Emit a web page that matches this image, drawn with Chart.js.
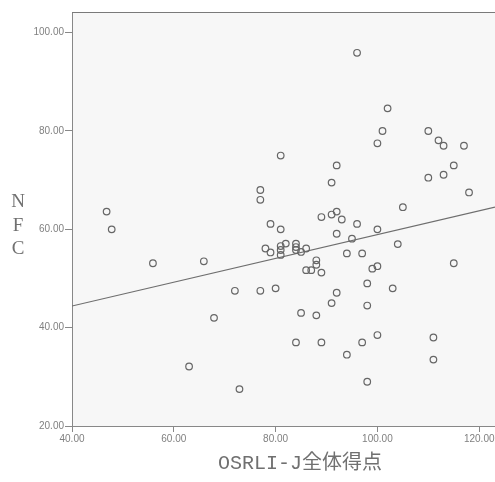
<!DOCTYPE html>
<html>
<head>
<meta charset="utf-8">
<script src="https://cdn.jsdelivr.net/npm/chart.js@4.4.1/dist/chart.umd.min.js"></script>
<style>
  html, body { margin: 0; padding: 0; background: #ffffff; }
  #wrap { width: 495px; height: 482px; }
</style>
</head>
<body>
<div id="wrap"><canvas id="nfcChart" width="495" height="482"></canvas></div>
<script>
// OSRLI-J total score (x) vs NFC (y)
const osrliScores = [
  46.8, 47.8, 55.9, 65.9, 67.9, 63.0, 72.0, 72.9, 77.0, 80.0,
  81.0, 92.0, 91.0, 77.0, 77.0, 89.0, 91.0, 92.0, 93.0, 96.0,
  79.0, 81.0, 92.0, 95.0, 100.0, 104.0, 105.0, 96.0, 102.0, 101.0,
  100.0, 110.0, 112.0, 113.0, 117.0, 115.0, 110.0, 113.0, 118.0, 115.0,
  78.0, 79.0, 81.0, 81.0, 81.0, 82.0, 84.0, 84.0, 84.0, 85.0,
  86.0, 88.0, 88.0, 86.0, 87.0, 89.0, 94.0, 97.0, 99.0, 100.0,
  98.0, 103.0, 92.0, 91.0, 98.0, 85.0, 88.0, 84.0, 89.0, 97.0,
  100.0, 94.0, 111.0, 111.0, 98.0
];
const nfcScores = [
  63.6, 60.0, 53.1, 53.5, 42.0, 32.1, 47.5, 27.5, 47.5, 48.0,
  75.0, 73.0, 69.5, 68.0, 66.0, 62.5, 63.0, 63.6, 62.0, 61.1,
  61.1, 60.0, 59.1, 58.1, 60.0, 57.0, 64.5, 95.9, 84.6, 80.0,
  77.5, 80.0, 78.1, 77.0, 77.0, 73.0, 70.5, 71.1, 67.5, 53.1,
  56.1, 55.3, 56.6, 55.8, 54.8, 57.1, 57.1, 56.4, 55.8, 55.4,
  56.1, 53.7, 52.8, 51.7, 51.7, 51.2, 55.1, 55.1, 52.0, 52.5,
  49.0, 48.0, 47.1, 45.0, 44.5, 43.0, 42.5, 37.0, 37.0, 37.0,
  38.5, 34.5, 38.0, 33.5, 29.0
];

// fitted regression line (end points at the plot edges)
const fitX = [40, 123.1];
const fitY = [44.4, 64.5];

const xTicks = [40, 60, 80, 100, 120];
const yTicks = [20, 40, 60, 80, 100];

const xTitle = 'OSRLI-J全体得点';
const yTitleLetters = ['N', 'F', 'C'];

const pointData = osrliScores.map((x, i) => ({ x: x, y: nfcScores[i] }));
const fitData = fitX.map((x, i) => ({ x: x, y: fitY[i] }));

// background, frame and axis titles
const decorPlugin = {
  id: 'decor',
  beforeDraw(chart) {
    const { ctx, chartArea } = chart;
    ctx.save();
    ctx.fillStyle = '#ffffff';
    ctx.fillRect(0, 0, chart.width, chart.height);
    ctx.fillStyle = '#f7f7f7';
    ctx.fillRect(chartArea.left, chartArea.top, chartArea.right - chartArea.left, chartArea.bottom - chartArea.top);
    ctx.restore();
  },
  afterDraw(chart) {
    const { ctx, chartArea } = chart;
    ctx.save();
    ctx.strokeStyle = '#7a7a7a';
    ctx.lineWidth = 1;
    ctx.beginPath();
    ctx.moveTo(chartArea.left, chartArea.top + 0.5);
    ctx.lineTo(chartArea.right, chartArea.top + 0.5);
    ctx.stroke();

    ctx.fillStyle = '#707070';
    ctx.textAlign = 'center';
    ctx.textBaseline = 'middle';
    ctx.font = '19px "Liberation Serif", serif';
    const letterY = [202, 226, 249];
    yTitleLetters.forEach((ch, i) => ctx.fillText(ch, 18, letterY[i]));

    ctx.font = '20px "Liberation Mono", "Noto Sans CJK JP", monospace';
    ctx.fillText(xTitle, 300, 464);
    ctx.restore();
  }
};

const tickFont = { family: '"Liberation Sans", Arial, sans-serif', size: 10 };

const config = {
  type: 'scatter',
  data: {
    datasets: [
      {
        label: 'NFC',
        data: pointData,
        pointStyle: 'circle',
        pointRadius: 3.3,
        pointBorderWidth: 1.2,
        pointBorderColor: '#666666',
        pointBackgroundColor: 'rgba(0,0,0,0)',
        showLine: false
      },
      {
        label: 'fit',
        type: 'line',
        data: fitData,
        borderColor: '#6e6e6e',
        borderWidth: 1.2,
        pointRadius: 0,
        fill: false
      }
    ]
  },
  options: {
    responsive: false,
    animation: false,
    layout: { autoPadding: false, padding: { top: 12, right: 0, bottom: 0, left: 0 } },
    plugins: {
      legend: { display: false },
      tooltip: { enabled: false },
      title: { display: false }
    },
    scales: {
      x: {
        type: 'linear',
        min: 40,
        max: 123.1,
        afterFit(scale) {
          scale.height = 56;
          scale.paddingLeft = 0;
          scale.paddingRight = 0;
        },
        afterBuildTicks(scale) { scale.ticks = xTicks.map(v => ({ value: v })); },
        ticks: {
          includeBounds: false,
          color: '#808080',
          font: tickFont,
          padding: 1,
          maxRotation: 0,
          callback: v => Number(v).toFixed(2)
        },
        grid: { drawOnChartArea: false, drawTicks: true, tickLength: 6, color: '#888888' },
        border: { color: '#888888', width: 1 }
      },
      y: {
        type: 'linear',
        min: 20,
        max: 104.2,
        afterFit(scale) {
          scale.width = 72;
          scale.paddingTop = 0;
          scale.paddingBottom = 0;
        },
        afterBuildTicks(scale) { scale.ticks = yTicks.map(v => ({ value: v })); },
        ticks: {
          includeBounds: false,
          color: '#808080',
          font: tickFont,
          padding: 1,
          callback: v => Number(v).toFixed(2)
        },
        grid: { drawOnChartArea: false, drawTicks: true, tickLength: 7, color: '#888888' },
        border: { color: '#888888', width: 1 }
      }
    }
  },
  plugins: [decorPlugin]
};

new Chart(document.getElementById('nfcChart'), config);
</script>
</body>
</html>
